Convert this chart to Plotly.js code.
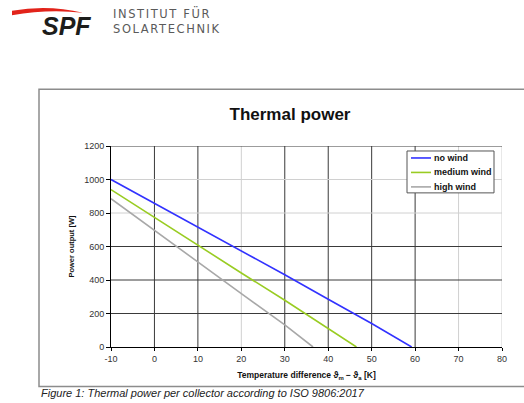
<!DOCTYPE html>
<html><head><meta charset="utf-8">
<script src="https://cdn.plot.ly/plotly-3.0.1.min.js"></script>
<style>html,body{margin:0;padding:0;background:#fff}</style>
</head><body><div id="chart" style="width:524px;height:403px"></div>
<script>
// ---- data ----
const seriesNames = ['no wind', 'medium wind', 'high wind'];
const noWindX = [-10, 0, 10, 20, 30, 40, 50, 59.2];
const noWindY = [1000, 858, 717, 574, 431, 285, 140, 0];
const mediumWindX = [-10, 0, 10, 20, 30, 40, 46.5];
const mediumWindY = [940, 773, 606, 442, 279, 110, 0];
const highWindX = [-10, 0, 10, 20, 30, 36.5];
const highWindY = [885, 695, 506, 319, 132, 0];
const xTickVals = [-10, 0, 10, 20, 30, 40, 50, 60, 70, 80];
const xTickLabels = ['-10', '0', '10', '20', '30', '40', '50', '60', '70', '80'];
const yTickVals = [0, 200, 400, 600, 800, 1000, 1200];
const chartTitle = 'Thermal power';
const xTitle = 'Temperature difference ϑ<sub>m</sub> − ϑ<sub>a</sub> [K]';
const yTitle = 'Power output [W]';
const caption = 'Figure 1: Thermal power per collector according to ISO 9806:2017';
const logoText = 'SPF';
const instLine1 = 'INSTITUT FÜR';
const instLine2 = 'SOLARTECHNIK';

// ---- styles ----
const colors = ['#3232ff', '#99cc22', '#a8a8a8'];
const gridDark = '#3a3a3a', gridLight = '#d0d0d0';
const xGridLight = [20, 70, 80];
const yGridLight = [800, 1000];
const FONT = 'Liberation Sans, Arial, sans-serif';

// plot area in pixels (for page decorations outside the plot)
const L = 111, R = 502, T = 146, B = 347.5;
const px = x => (x - L) / (R - L);
const py = y => (B - y) / (B - T);

const traces = [
  {x: noWindX, y: noWindY, name: seriesNames[0]},
  {x: mediumWindX, y: mediumWindY, name: seriesNames[1]},
  {x: highWindX, y: highWindY, name: seriesNames[2]}
].map((t, i) => Object.assign(t, {type: 'scatter', mode: 'lines', line: {color: colors[i], width: 1.6}}));

const shapes = [];
xTickVals.filter(v => v > xTickVals[0]).forEach(v => shapes.push({
  type: 'line', layer: 'below', xref: 'x', yref: 'paper', x0: v, x1: v, y0: 0, y1: 1,
  line: {color: xGridLight.includes(v) ? gridLight : gridDark, width: 1}
}));
yTickVals.filter(v => v > yTickVals[0]).forEach(v => shapes.push({
  type: 'line', layer: 'below', xref: 'paper', yref: 'y', x0: 0, x1: 1, y0: v, y1: v,
  line: {color: yGridLight.includes(v) ? gridLight : gridDark, width: 1}
}));
// outer frame of the figure
shapes.push({type: 'rect', xref: 'paper', yref: 'paper', x0: px(39), x1: px(540), y0: py(387), y1: py(89),
  line: {color: '#8c8c8c', width: 1.5}});
// red swoosh of the logo
const sw = [[12, 10.5], [48, 4], [83, 12.5], [48, 8.5], [12, 15]].map(p => [px(p[0]), py(p[1])]);
shapes.push({type: 'path', xref: 'paper', yref: 'paper', fillcolor: '#e2231a', line: {width: 0},
  path: `M${sw[0][0]},${sw[0][1]} Q${sw[1][0]},${sw[1][1]} ${sw[2][0]},${sw[2][1]} Q${sw[3][0]},${sw[3][1]} ${sw[4][0]},${sw[4][1]} Z`});

const annotations = [
  {text: '<i>' + caption + '</i>', xref: 'paper', yref: 'paper', x: px(39), y: py(394), xanchor: 'left', yanchor: 'middle',
   showarrow: false, font: {family: FONT, size: 11, color: '#222'}},
  {text: '<b><i>' + logoText + '</i></b>', xref: 'paper', yref: 'paper', x: px(40), y: py(26), xanchor: 'left', yanchor: 'middle',
   showarrow: false, font: {family: FONT, size: 25, color: '#1d1d1b'}},
  {text: '<span style="letter-spacing:1.6px">' + instLine1 + '</span>', xref: 'paper', yref: 'paper', x: px(111), y: py(13), xanchor: 'left', yanchor: 'middle',
   showarrow: false, font: {family: 'DejaVu Sans, sans-serif', size: 11.5, color: '#5a5a5a'}},
  {text: '<span style="letter-spacing:1.6px">' + instLine2 + '</span>', xref: 'paper', yref: 'paper', x: px(111), y: py(29), xanchor: 'left', yanchor: 'middle',
   showarrow: false, font: {family: 'DejaVu Sans, sans-serif', size: 11.5, color: '#5a5a5a'}}
];

// compact legend (box, sample lines, labels)
const legRowsY = [158, 172.5, 187];
shapes.push({type: 'rect', xref: 'paper', yref: 'paper', x0: px(407), x1: px(494), y0: py(193), y1: py(151),
  fillcolor: '#fff', line: {color: '#555', width: 1}});
seriesNames.forEach((n, i) => {
  shapes.push({type: 'line', xref: 'paper', yref: 'paper', x0: px(411), x1: px(431), y0: py(legRowsY[i]), y1: py(legRowsY[i]),
    line: {color: colors[i], width: 1.6}});
  annotations.push({text: '<b>' + n + '</b>', xref: 'paper', yref: 'paper', x: px(432), y: py(legRowsY[i]),
    xanchor: 'left', yanchor: 'middle', showarrow: false, font: {family: FONT, size: 9, color: '#111'}});
});

const layout = {
  width: 524, height: 403,
  margin: {l: L, r: 524 - R, t: T, b: 403 - B, pad: 0},
  paper_bgcolor: '#fff', plot_bgcolor: '#fff',
  font: {family: FONT, color: '#333'},
  title: {text: '<b>' + chartTitle + '</b>', font: {family: FONT, size: 17, color: '#111'},
    x: 290 / 524, xanchor: 'center', xref: 'container', y: 1 - 114 / 403, yanchor: 'middle', yref: 'container'},
  xaxis: {range: [-10, 80], tickvals: xTickVals, ticktext: xTickLabels, showgrid: false, zeroline: false,
    showline: true, linecolor: '#000', linewidth: 1, ticks: 'outside', ticklen: 3, tickcolor: '#000',
    tickfont: {family: FONT, size: 9, color: '#333'},
    title: {text: '<b>' + xTitle + '</b>', standoff: 9, font: {family: FONT, size: 8.5, color: '#111'}}},
  yaxis: {range: [0, 1200], tickvals: yTickVals, showgrid: false, zeroline: false,
    showline: true, linecolor: '#000', linewidth: 1, ticks: 'outside', ticklen: 4, tickcolor: '#000',
    tickfont: {family: FONT, size: 9, color: '#333'},
    title: {text: '<b>' + yTitle + '</b>', standoff: 8, font: {family: FONT, size: 7.5, color: '#111'}}},
  showlegend: false,
  shapes: shapes,
  annotations: annotations
};

Plotly.newPlot('chart', traces, layout, {displayModeBar: false, staticPlot: true});
</script></body></html>
